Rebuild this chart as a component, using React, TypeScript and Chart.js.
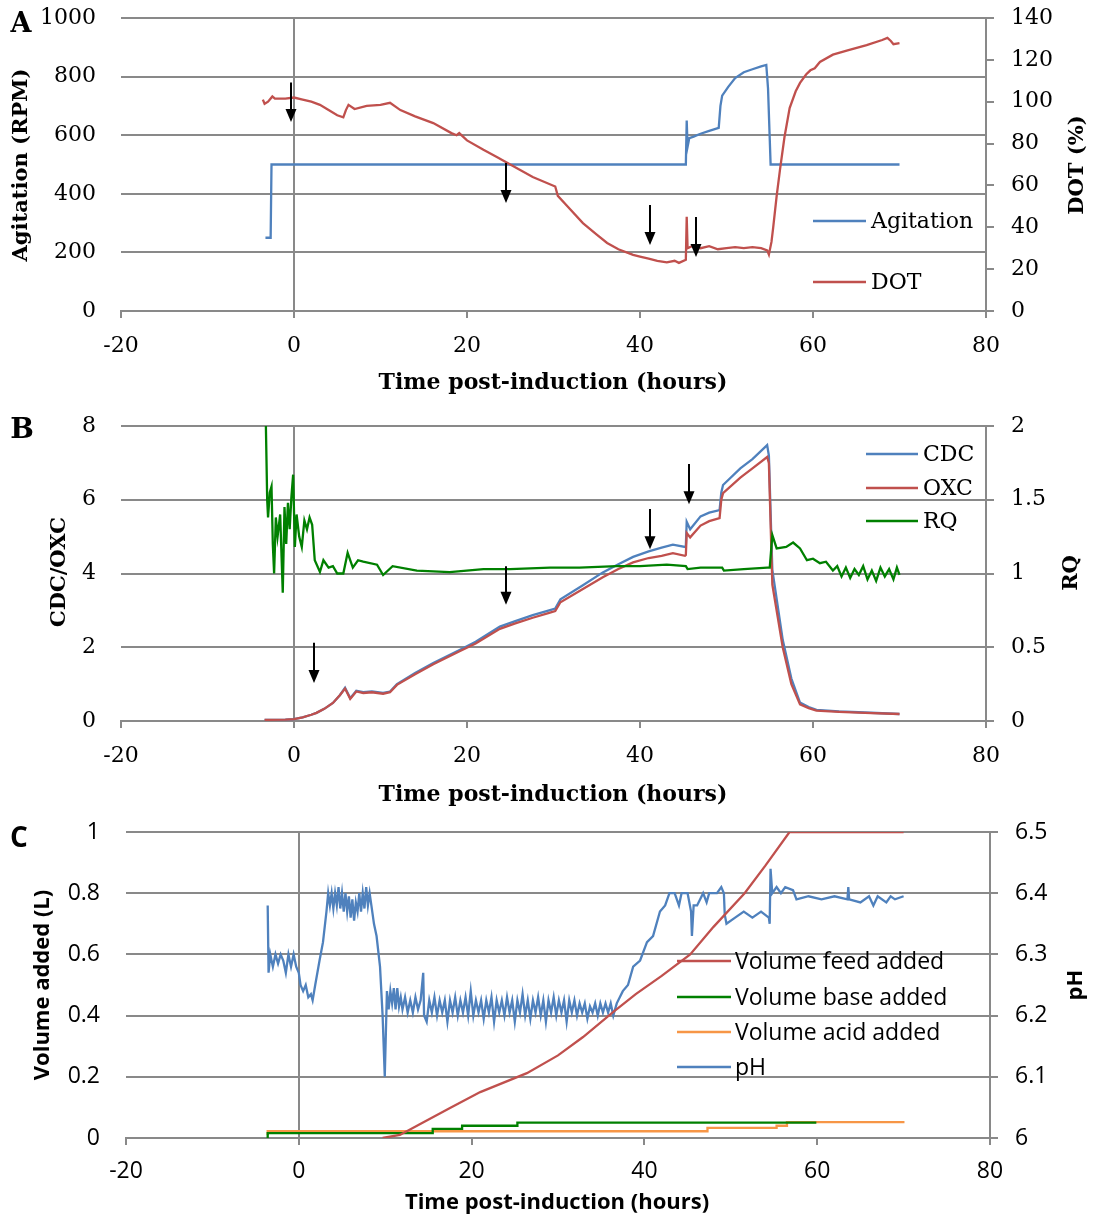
import React, { useEffect, useRef } from "react";
import { Chart, registerables } from "chart.js";

Chart.register(...registerables);

type Pt = [number, number];
type Arrow = [number, number, number];

// ---------- shared time axis ----------
const timeMin = -20;
const timeMax = 80;
const timeStep = 20;

// ---------- Panel A ----------
const agitationRpm: Pt[] = [
  [-3.3, 250], [-2.7, 250], [-2.6, 500], [0, 500], [10, 500], [20, 500], [30, 500], [40, 500],
  [45.3, 500], [45.4, 650], [45.5, 560], [45.7, 590], [46.2, 595], [47, 605], [48, 615],
  [49.1, 625], [49.3, 700], [49.5, 735], [50.2, 765], [51, 795], [52, 815], [53, 825],
  [54, 835], [54.6, 840], [54.7, 800], [54.8, 760], [55.1, 500], [60, 500], [70, 500],
];
const dotPercent: Pt[] = [
  [-3.6, 101], [-3.4, 99], [-3.0, 100], [-2.5, 102.5], [-2.2, 101.5], [-1, 101.5], [0, 102],
  [1, 101], [2, 100], [3, 98.5], [4, 96], [5, 93.5], [5.7, 92.5], [6.0, 96], [6.3, 98.5],
  [7, 96.5], [8.4, 98], [10, 98.5], [11.1, 99.5], [12.3, 96], [14, 93], [16.1, 89.8],
  [18.2, 85], [18.8, 84], [19.1, 85], [20, 81.5], [21.9, 77], [23.5, 73.5], [25, 70],
  [27.6, 64], [30.2, 59.5], [30.5, 55], [31.5, 50.5], [33.4, 42], [35, 36.5], [36.2, 32.5],
  [37.5, 29.5], [39.2, 26.8], [40, 26], [41, 25], [42, 24], [43.1, 23.2], [44, 24],
  [44.5, 23], [45.3, 24.5], [45.4, 45], [45.5, 30], [46, 31], [47, 30], [48, 31], [49, 29.5],
  [50, 30], [51, 30.5], [52, 30], [53, 30.5], [54, 30], [54.7, 29], [54.9, 27], [55.2, 33],
  [55.4, 40], [55.8, 55], [56.2, 68], [56.7, 83], [57.3, 97], [58, 105], [58.5, 109],
  [59.2, 113], [59.7, 115], [60.2, 116], [60.8, 119], [62.3, 122.5], [64, 124.5],
  [66.2, 127], [68, 129.5], [68.6, 130.5], [69, 129], [69.3, 127.5], [70, 128],
];
const arrowsA: Arrow[] = [
  [-0.3, 780, 645], [24.5, 505, 369], [41.2, 362, 225], [46.5, 321, 184],
];

// ---------- Panel B ----------
const cdcSeries: Pt[] = [
  [-3.4, 0.03], [-1, 0.04], [0, 0.05], [1, 0.1], [2, 0.17], [2.6, 0.22], [3.5, 0.33],
  [4.5, 0.49], [5.3, 0.7], [5.9, 0.9], [6.5, 0.62], [7.2, 0.82], [8, 0.78], [9, 0.8],
  [10.3, 0.76], [11.1, 0.8], [11.9, 1.0], [14, 1.3], [16.1, 1.57], [19.2, 1.93],
  [21, 2.15], [23.8, 2.56], [25.5, 2.7], [27.6, 2.87], [29.5, 3.0], [30.2, 3.05],
  [30.8, 3.3], [33.4, 3.68], [35.7, 4.03], [37.5, 4.25], [39.2, 4.45], [41, 4.6],
  [42.5, 4.7], [43.8, 4.78], [45.2, 4.72], [45.3, 4.75], [45.4, 5.4], [45.8, 5.2],
  [47, 5.55], [48, 5.65], [49.2, 5.72], [49.4, 6.2], [49.6, 6.4], [51.6, 6.85],
  [53, 7.1], [54.7, 7.48], [54.9, 7.2], [55.3, 4.1], [56.5, 2.2], [57.5, 1.15],
  [58.5, 0.5], [59.5, 0.38], [60.4, 0.3], [63, 0.26], [66, 0.23], [70, 0.19],
];
const oxcSeries: Pt[] = [
  [-3.4, 0.03], [-1, 0.04], [0, 0.05], [1, 0.1], [2, 0.17], [2.6, 0.22], [3.5, 0.33],
  [4.5, 0.49], [5.3, 0.7], [5.9, 0.88], [6.5, 0.6], [7.2, 0.8], [8, 0.76], [9, 0.78],
  [10.3, 0.74], [11.1, 0.78], [11.9, 0.98], [14, 1.27], [16.1, 1.54], [19.2, 1.9],
  [21, 2.1], [23.8, 2.5], [25.5, 2.64], [27.6, 2.8], [29.5, 2.93], [30.2, 2.98],
  [30.8, 3.22], [33.4, 3.58], [35.7, 3.9], [37.5, 4.12], [39.2, 4.3], [41, 4.42],
  [42.5, 4.48], [43.8, 4.55], [45.2, 4.48], [45.3, 4.5], [45.4, 5.1], [45.8, 4.98],
  [47, 5.3], [48, 5.42], [49.2, 5.5], [49.4, 6.0], [49.6, 6.18], [51.6, 6.6],
  [53, 6.85], [54.7, 7.16], [54.9, 7.0], [55.3, 3.7], [56.5, 2.0], [57.5, 1.0],
  [58.5, 0.45], [59.5, 0.35], [60.4, 0.28], [63, 0.25], [66, 0.22], [70, 0.19],
];
const rqSeries: Pt[] = [
  [-3.25, 2.0], [-3.1, 1.5], [-3.0, 1.38], [-2.8, 1.55], [-2.6, 1.59], [-2.45, 1.2],
  [-2.3, 1.0], [-2.1, 1.38], [-1.9, 1.25], [-1.6, 1.4], [-1.3, 0.87], [-1.1, 1.45],
  [-0.9, 1.2], [-0.7, 1.48], [-0.5, 1.3], [-0.3, 1.52], [-0.1, 1.67], [0.1, 1.18],
  [0.3, 1.4], [0.6, 1.25], [0.9, 1.18], [1.2, 1.36], [1.5, 1.3], [1.8, 1.38], [2.1, 1.33],
  [2.4, 1.09], [3.0, 1.01], [3.4, 1.09], [4.0, 1.04], [4.5, 1.05], [5.0, 1.0], [5.7, 1.0],
  [6.2, 1.14], [6.8, 1.04], [7.4, 1.09], [8.0, 1.08], [9.6, 1.06], [10.3, 0.99],
  [11.4, 1.05], [14.2, 1.02], [18, 1.01], [21.9, 1.03], [25, 1.03], [29.6, 1.04],
  [33, 1.04], [37.3, 1.05], [40, 1.05], [43.1, 1.06], [45.3, 1.05], [45.5, 1.03],
  [47, 1.04], [49.5, 1.04], [49.7, 1.02], [52, 1.03], [54.7, 1.04], [55.0, 1.04],
  [55.3, 1.26], [55.8, 1.17], [56.9, 1.18], [57.7, 1.21], [58.5, 1.17], [59.3, 1.09],
  [60.0, 1.1], [60.8, 1.07], [61.5, 1.08], [62.3, 1.02], [62.8, 1.05], [63.3, 0.98],
  [63.8, 1.04], [64.3, 0.97], [64.8, 1.03], [65.3, 0.99], [65.8, 1.05], [66.3, 0.96],
  [66.8, 1.02], [67.3, 0.95], [67.8, 1.04], [68.3, 0.98], [68.8, 1.03], [69.3, 0.96],
  [69.7, 1.04], [70, 0.99],
];
const arrowsB: Arrow[] = [
  [2.3, 2.12, 1.03], [24.5, 4.2, 3.15], [41.2, 5.75, 4.66], [45.7, 6.97, 5.88],
];

// ---------- Panel C ----------
const phSeries: Pt[] = [
  [-3.6, 6.38], [-3.5, 6.27], [-3.3, 6.30], [-3.0, 6.28], [-2.7, 6.30], [-2.4, 6.285],
  [-2.1, 6.30], [-1.8, 6.29], [-1.5, 6.27], [-1.2, 6.30], [-0.9, 6.28], [-0.6, 6.30],
  [-0.3, 6.28], [0.0, 6.27], [0.2, 6.25], [0.5, 6.24], [0.8, 6.25], [1.1, 6.23],
  [1.4, 6.235], [1.6, 6.225], [1.9, 6.25], [2.4, 6.29], [2.8, 6.32], [3.2, 6.37],
  [3.4, 6.40], [3.6, 6.38], [3.8, 6.40], [4.0, 6.375], [4.2, 6.40], [4.4, 6.38],
  [4.6, 6.41], [4.8, 6.375], [5.0, 6.40], [5.2, 6.37], [5.4, 6.40], [5.6, 6.37],
  [5.8, 6.395], [6.0, 6.36], [6.2, 6.39], [6.4, 6.355], [6.6, 6.385], [6.8, 6.37],
  [7.0, 6.40], [7.2, 6.37], [7.4, 6.40], [7.6, 6.375], [7.8, 6.41], [8.0, 6.38],
  [8.2, 6.40], [8.4, 6.38], [8.7, 6.35], [9.0, 6.33], [9.4, 6.28], [9.7, 6.20],
  [9.95, 6.10], [10.2, 6.24], [10.4, 6.21], [10.6, 6.24], [10.8, 6.22], [11.0, 6.245],
  [11.2, 6.21], [11.4, 6.245], [11.6, 6.215], [11.8, 6.23], [12.0, 6.21], [12.3, 6.23],
  [12.6, 6.205], [12.9, 6.225], [13.2, 6.205], [13.5, 6.23], [13.8, 6.21], [14.1, 6.225],
  [14.4, 6.27], [14.5, 6.2], [14.8, 6.19], [15.1, 6.225], [15.4, 6.205], [15.7, 6.23],
  [16.0, 6.2], [16.3, 6.225], [16.6, 6.205], [16.9, 6.225], [17.2, 6.19], [17.5, 6.225],
  [17.8, 6.205], [18.1, 6.23], [18.4, 6.2], [18.7, 6.225], [19.0, 6.205], [19.3, 6.23],
  [19.6, 6.2], [19.9, 6.24], [20.2, 6.2], [20.5, 6.225], [20.8, 6.205], [21.1, 6.225],
  [21.4, 6.195], [21.7, 6.225], [22.0, 6.205], [22.3, 6.23], [22.6, 6.19], [22.9, 6.225],
  [23.2, 6.205], [23.5, 6.225], [23.8, 6.2], [24.1, 6.23], [24.4, 6.205], [24.7, 6.225],
  [25.0, 6.19], [25.3, 6.225], [25.6, 6.205], [25.9, 6.235], [26.2, 6.2], [26.5, 6.225],
  [26.8, 6.195], [27.1, 6.225], [27.4, 6.205], [27.7, 6.23], [28.0, 6.2], [28.3, 6.225],
  [28.6, 6.19], [28.9, 6.225], [29.2, 6.205], [29.5, 6.23], [29.8, 6.2], [30.1, 6.225],
  [30.4, 6.205], [30.7, 6.225], [31.0, 6.19], [31.3, 6.225], [31.6, 6.205], [31.9, 6.225],
  [32.2, 6.2], [32.5, 6.22], [32.8, 6.205], [33.1, 6.22], [33.4, 6.195], [33.7, 6.215],
  [34.0, 6.205], [34.3, 6.22], [34.6, 6.2], [34.9, 6.22], [35.2, 6.205], [35.5, 6.22],
  [35.8, 6.205], [36.1, 6.22], [36.4, 6.2], [36.8, 6.22], [37.5, 6.24], [38.1, 6.25],
  [38.7, 6.28], [39.5, 6.29], [40.3, 6.32], [41.0, 6.33], [41.8, 6.37], [42.4, 6.38],
  [42.9, 6.40], [43.5, 6.40], [44.0, 6.38], [44.3, 6.40], [45.0, 6.40], [45.4, 6.37],
  [45.5, 6.33], [45.7, 6.38], [46.1, 6.38], [46.8, 6.40], [47.2, 6.385], [47.5, 6.40],
  [48.4, 6.40], [48.9, 6.41], [49.2, 6.40], [49.3, 6.365], [49.5, 6.35], [50.5, 6.36],
  [51.5, 6.37], [52.5, 6.36], [53.5, 6.37], [54.4, 6.36], [54.5, 6.35], [54.6, 6.44],
  [54.8, 6.40], [55.3, 6.41], [55.8, 6.40], [56.3, 6.41], [57.2, 6.405], [57.6, 6.39],
  [59, 6.395], [60.5, 6.39], [62, 6.395], [63.5, 6.39], [63.6, 6.41], [63.7, 6.39],
  [65, 6.385], [66, 6.395], [66.5, 6.38], [67, 6.395], [68, 6.385], [68.5, 6.395],
  [69, 6.39], [70, 6.395],
];
const feedVolume: Pt[] = [
  [9.7, 0], [11.7, 0.01], [14, 0.045], [17.5, 0.098], [21, 0.15], [26.4, 0.212],
  [30, 0.27], [32.9, 0.33], [36.3, 0.41], [39, 0.47], [42, 0.53], [45.3, 0.6],
  [48, 0.69], [51.6, 0.8], [54, 0.89], [56.8, 1.0], [70, 1.0],
];
const baseVolume: Pt[] = [
  [-3.6, 0], [15.5, 0.016], [18.9, 0.03], [25.3, 0.04], [29.9, 0.05], [59.9, 0.05],
];
const acidVolume: Pt[] = [
  [-3.6, 0.01], [47.3, 0.022], [55.3, 0.033], [56.5, 0.04], [59.7, 0.052], [70.1, 0.052],
];

// ---------- styling ----------
const GRID = "#898989";
const BLUE = "#4F81BD";
const RED = "#C0504D";
const GREEN = "#008000";
const ORANGE = "#F79646";
const SERIF = "'DejaVu Serif', serif";
const SANS = "'Open Sans', sans-serif";

const toXY = (p: Pt[]) => p.map(([x, y]) => ({ x, y }));
const fmt = (v: any) => String(Math.round(Number(v) * 100) / 100);

function line(label: string, pts: Pt[], color: string, axis: string, order: number, stepped: any = false) {
  return {
    label,
    data: toXY(pts),
    borderColor: color,
    backgroundColor: color,
    borderWidth: 2.3,
    pointRadius: 0,
    tension: 0,
    yAxisID: axis,
    order,
    stepped,
  };
}

function decor(s: any) {
  return {
    id: "decor",
    afterDatasetsDraw(chart: any) {
      const ctx = chart.ctx;
      const xs = chart.scales.x;
      const ys = chart.scales.y;
      ctx.save();
      ctx.fillStyle = "#000";
      ctx.strokeStyle = "#000";
      ctx.lineWidth = 2;
      for (const [h, a, b] of s.arrows as Arrow[]) {
        const px = Math.round(xs.getPixelForValue(h));
        const y1 = ys.getPixelForValue(a);
        const y2 = ys.getPixelForValue(b);
        ctx.beginPath();
        ctx.moveTo(px, y1);
        ctx.lineTo(px, y2 - 10);
        ctx.stroke();
        ctx.beginPath();
        ctx.moveTo(px - 5.5, y2 - 13);
        ctx.lineTo(px + 5.5, y2 - 13);
        ctx.lineTo(px, y2);
        ctx.closePath();
        ctx.fill();
      }
      ctx.font = `${s.legendSize}px ${s.family}`;
      ctx.textBaseline = "middle";
      ctx.textAlign = "left";
      for (const r of s.legend.rows) {
        ctx.strokeStyle = r.color;
        ctx.lineWidth = 2.5;
        ctx.beginPath();
        ctx.moveTo(s.legend.x1, r.y);
        ctx.lineTo(s.legend.x2, r.y);
        ctx.stroke();
        ctx.fillStyle = "#000";
        ctx.fillText(r.label, s.legend.tx, r.y + 1);
      }
      for (const t of s.titles) {
        ctx.save();
        ctx.translate(t.x, t.y);
        if (t.rot) ctx.rotate(-Math.PI / 2);
        ctx.font = `bold ${t.size}px ${s.family}`;
        ctx.textAlign = "center";
        ctx.textBaseline = "middle";
        ctx.fillStyle = "#000";
        ctx.fillText(t.text, 0, 0);
        ctx.restore();
      }
      ctx.restore();
    },
  };
}

function makeConfig(s: any): any {
  const tickFont = { family: s.family, size: s.tickSize };
  return {
    type: "line",
    data: { datasets: s.datasets },
    options: {
      responsive: false,
      animation: false,
      devicePixelRatio: 1,
      layout: { padding: { top: s.padTop, left: 0, right: 0, bottom: 0 } },
      plugins: { legend: { display: false }, tooltip: { enabled: false } },
      scales: {
        x: {
          type: "linear",
          min: timeMin,
          max: timeMax,
          ticks: { stepSize: timeStep, color: "#000", font: tickFont, padding: s.xPad, callback: fmt },
          grid: {
            color: (c: any) => (c.tick && c.tick.value === 0 ? GRID : "rgba(0,0,0,0)"),
            lineWidth: 2,
            tickColor: GRID,
            tickWidth: 2,
            tickLength: 7,
            drawTicks: true,
          },
          border: { display: true, color: GRID, width: 2 },
          afterFit: (sc: any) => { sc.height = s.xH; sc.paddingLeft = 0; sc.paddingRight = 0; },
        },
        y: {
          type: "linear",
          position: "left",
          min: s.yLeft[0],
          max: s.yLeft[1],
          ticks: { stepSize: s.yLeft[2], color: "#000", font: tickFont, padding: s.leftPad, callback: fmt },
          grid: { color: GRID, lineWidth: 2, drawTicks: false },
          border: { display: false },
          afterFit: (sc: any) => { sc.width = s.leftW; sc.paddingTop = 0; sc.paddingBottom = 0; },
        },
        y1: {
          type: "linear",
          position: "right",
          min: s.yRight[0],
          max: s.yRight[1],
          ticks: { stepSize: s.yRight[2], color: "#000", font: tickFont, padding: s.rightPad, callback: fmt },
          grid: { drawOnChartArea: false, color: GRID, lineWidth: 2, tickLength: 8, drawTicks: true },
          border: { display: true, color: GRID, width: 2 },
          afterFit: (sc: any) => { sc.width = s.rightW; sc.paddingTop = 0; sc.paddingBottom = 0; },
        },
      },
    },
    plugins: [decor(s)],
  };
}

const specA = {
  family: SERIF, tickSize: 22, legendSize: 22,
  padTop: 18, xH: 94, leftW: 121, rightW: 114, xPad: 15, leftPad: 25, rightPad: 17,
  yLeft: [0, 1000, 200], yRight: [0, 140, 20],
  datasets: [
    line("Agitation", agitationRpm, BLUE, "y", 2),
    line("DOT", dotPercent, RED, "y1", 1),
  ],
  arrows: arrowsA,
  legend: { x1: 813, x2: 866, tx: 871, rows: [
    { label: "Agitation", color: BLUE, y: 221 },
    { label: "DOT", color: RED, y: 282 },
  ] },
  titles: [
    { text: "A", x: 21, y: 25, rot: false, size: 27 },
    { text: "Agitation (RPM)", x: 22, y: 165, rot: true, size: 21 },
    { text: "DOT (%)", x: 1078, y: 165, rot: true, size: 21 },
    { text: "Time post-induction (hours)", x: 553, y: 383, rot: false, size: 22 },
  ],
};

const specB = {
  family: SERIF, tickSize: 22, legendSize: 22,
  padTop: 21, xH: 91, leftW: 121, rightW: 114, xPad: 15, leftPad: 25, rightPad: 17,
  yLeft: [0, 8, 2], yRight: [0, 2, 0.5],
  datasets: [
    line("CDC", cdcSeries, BLUE, "y", 3),
    line("OXC", oxcSeries, RED, "y", 2),
    line("RQ", rqSeries, GREEN, "y1", 1),
  ],
  arrows: arrowsB,
  legend: { x1: 866, x2: 918, tx: 923, rows: [
    { label: "CDC", color: BLUE, y: 49 },
    { label: "OXC", color: RED, y: 83 },
    { label: "RQ", color: GREEN, y: 116 },
  ] },
  titles: [
    { text: "B", x: 22, y: 26, rot: false, size: 28 },
    { text: "CDC/OXC", x: 60, y: 167, rot: true, size: 21 },
    { text: "RQ", x: 1072, y: 168, rot: true, size: 21 },
    { text: "Time post-induction (hours)", x: 553, y: 390, rot: false, size: 22 },
  ],
};

const specC = {
  family: SANS, tickSize: 23, legendSize: 23,
  padTop: 20, xH: 82, leftW: 126, rightW: 110, xPad: 13, leftPad: 26, rightPad: 17,
  yLeft: [0, 1, 0.2], yRight: [6, 6.5, 0.1],
  datasets: [
    line("Volume feed added", feedVolume, RED, "y", 1),
    line("Volume base added", baseVolume, GREEN, "y", 3, "after"),
    line("Volume acid added", acidVolume, ORANGE, "y", 4, "after"),
    line("pH", phSeries, BLUE, "y1", 2),
  ],
  arrows: [],
  legend: { x1: 677, x2: 731, tx: 735, rows: [
    { label: "Volume feed added", color: RED, y: 149 },
    { label: "Volume base added", color: GREEN, y: 185 },
    { label: "Volume acid added", color: ORANGE, y: 220 },
    { label: "pH", color: BLUE, y: 255 },
  ] },
  titles: [
    { text: "C", x: 19, y: 27, rot: false, size: 28 },
    { text: "Volume added (L)", x: 43, y: 173, rot: true, size: 22 },
    { text: "pH", x: 1076, y: 173, rot: true, size: 22 },
    { text: "Time post-induction (hours)", x: 557, y: 391, rot: false, size: 22 },
  ],
};

function Panel({ top, height, spec }: { top: number; height: number; spec: any }) {
  const ref = useRef<HTMLCanvasElement>(null);
  useEffect(() => {
    const chart = new Chart(ref.current as HTMLCanvasElement, makeConfig(spec));
    return () => chart.destroy();
  }, [spec]);
  return (
    <div style={{ position: "absolute", left: 0, top, width: 1100, height }}>
      <canvas ref={ref} width={1100} height={height} style={{ display: "block" }} />
    </div>
  );
}

export default function App() {
  return (
    <div style={{ position: "absolute", left: 0, top: 0, width: 1100, height: 1220, background: "#fff" }}>
      <Panel top={0} height={405} spec={specA} />
      <Panel top={405} height={407} spec={specB} />
      <Panel top={812} height={408} spec={specC} />
    </div>
  );
}
